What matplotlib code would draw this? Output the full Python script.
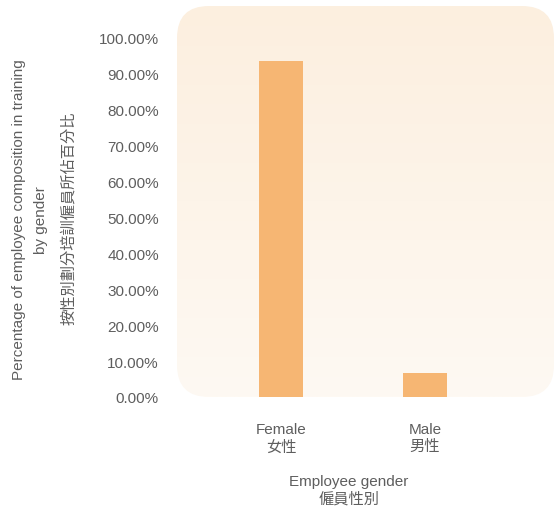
import matplotlib
matplotlib.use("Agg")
import matplotlib.pyplot as plt
import numpy as np
from matplotlib.patches import FancyBboxPatch
from matplotlib.colors import LinearSegmentedColormap

categories = ["Female\n女性", "Male\n男性"]
values = [93.3, 6.7]
yticks = [0, 10, 20, 30, 40, 50, 60, 70, 80, 90, 100]
ytick_labels = [f"{v:.2f}%" for v in yticks]
ylabel_en = "Percentage of employee composition in training\nby gender"
ylabel_zh = "按性別劃分培訓僱員所佔百分比"
xlabel = "Employee gender\n僱員性別"

FONT = ["Liberation Sans", "Noto Sans CJK TC", "DejaVu Sans"]
TXT = "#5e5e5e"
plt.rcParams["font.family"] = FONT

W, H = 554, 510
fig = plt.figure(figsize=(W / 100, H / 100), dpi=100)

ax_l, ax_r, ax_t, ax_b = 177, 554, 7, 398
ax = fig.add_axes([ax_l / W, 1 - ax_b / H, (ax_r - ax_l) / W, (ax_b - ax_t) / H])

# background gradient clipped to rounded rect
bg = FancyBboxPatch((ax_l / 100, (H - ax_b) / 100), (ax_r - ax_l) / 100, (ax_b - ax_t) / 100,
                    boxstyle="round,pad=0,rounding_size=0.32",
                    transform=fig.dpi_scale_trans, facecolor="none", edgecolor="none")
fig.patches.append(bg)
cmap = LinearSegmentedColormap.from_list("g", ["#FCEFDF", "#FEF9F3"])
grad = np.linspace(0, 1, 256).reshape(-1, 1)
xmin, xmax = -104 / 144, (ax_r - 281) / 144
ymax = (ax_b - ax_t) / 3.6
im = ax.imshow(grad, aspect="auto", cmap=cmap, extent=[xmin, xmax, 0, ymax],
               origin="upper", zorder=0)
im.set_clip_path(bg)

x = np.arange(len(categories))
ax.bar(x, values, width=44 / 144, color="#F6B673", zorder=2)

ax.set_xlim(xmin, xmax)
ax.set_ylim(0, ymax)
ax.set_yticks(yticks)
ax.set_yticklabels(ytick_labels)
ax.set_xticks(x)
ax.set_xticklabels(categories, linespacing=1.3)
ax.tick_params(length=0, labelsize=11, colors=TXT)
ax.tick_params(axis="y", pad=13)
ax.tick_params(axis="x", pad=18)
for s in ax.spines.values():
    s.set_visible(False)

fig.text(30 / W, 1 - 220 / H, ylabel_en, rotation=90, ha="center", va="center",
         fontsize=11, color=TXT, linespacing=1.7)
fig.text(69 / W, 1 - 218 / H, ylabel_zh, rotation=90, ha="center", va="center",
         fontsize=11, color=TXT)
fig.text(349 / W, 1 - 491 / H, xlabel, ha="center", va="center",
         fontsize=11, color=TXT, linespacing=1.3)

fig.savefig("out.png", dpi=100)
